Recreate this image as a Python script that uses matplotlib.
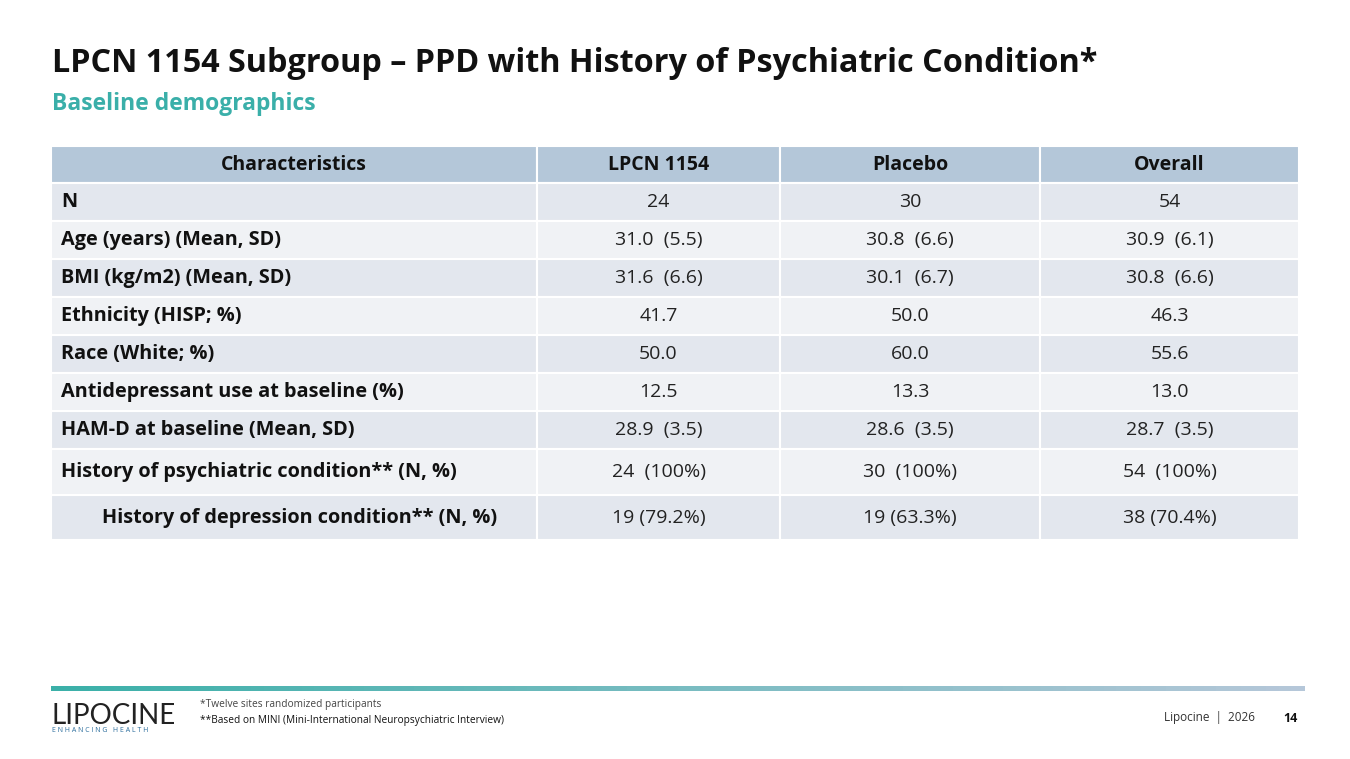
import matplotlib.pyplot as plt
from matplotlib.patches import Rectangle

columns = ['Characteristics', 'LPCN 1154', 'Placebo', 'Overall']
characteristics = ['N', 'Age (years) (Mean, SD)', 'BMI (kg/m2) (Mean, SD)', 'Ethnicity (HISP; %)',
                   'Race (White; %)', 'Antidepressant use at baseline (%)', 'HAM-D at baseline (Mean, SD)',
                   'History of psychiatric condition** (N, %)', 'History of depression condition** (N, %)']
lpcn = ['24', '31.0  (5.5)', '31.6  (6.6)', '41.7', '50.0', '12.5', '28.9  (3.5)', '24  (100%)', '19 (79.2%)']
placebo = ['30', '30.8  (6.6)', '30.1  (6.7)', '50.0', '60.0', '13.3', '28.6  (3.5)', '30  (100%)', '19 (63.3%)']
overall = ['54', '30.9  (6.1)', '30.8  (6.6)', '46.3', '55.6', '13.0', '28.7  (3.5)', '54  (100%)', '38 (70.4%)']

plt.rcParams['font.family'] = ['Open Sans', 'DejaVu Sans']
fig = plt.figure(figsize=(13.5, 7.59), dpi=100)
ax = fig.add_axes([0, 0, 1, 1])
ax.set_xlim(0, 1350)
ax.set_ylim(759, 0)
ax.axis('off')

ax.text(52, 63, 'LPCN 1154 Subgroup – PPD with History of Psychiatric Condition*', fontsize=23.3,
        fontweight='bold', va='center', color='#111111')
ax.text(52, 104, 'Baseline demographics', fontsize=16.5, fontweight='bold', va='center', color='#3AAFA9')

col_x = [51, 537, 780, 1040, 1299]
row_y = [146, 183, 221, 259, 297, 335, 373, 411, 449, 495, 540]

# header
for c in range(4):
    ax.add_patch(Rectangle((col_x[c], row_y[0]), col_x[c + 1] - col_x[c], row_y[1] - row_y[0],
                           facecolor='#B4C7D9', edgecolor='white', lw=1.5))
    ax.text((col_x[c] + col_x[c + 1]) / 2, (row_y[0] + row_y[1]) / 2, columns[c], fontsize=14,
            fontweight='bold', ha='center', va='center', color='#111111')

for r, name in enumerate(characteristics):
    y0, y1 = row_y[r + 1], row_y[r + 2]
    fc = '#E3E7EE' if r % 2 == 0 else '#F0F2F5'
    for c in range(4):
        ax.add_patch(Rectangle((col_x[c], y0), col_x[c + 1] - col_x[c], y1 - y0,
                               facecolor=fc, edgecolor='white', lw=1.5))
    ym = (y0 + y1) / 2
    indent = 102 if r == len(characteristics) - 1 else 61
    ax.text(indent, ym, name, fontsize=14.3, fontweight='bold', va='center', color='#111111')
    for c, vals in zip(range(1, 4), [lpcn, placebo, overall]):
        ax.text((col_x[c] + col_x[c + 1]) / 2, ym, vals[r], fontsize=14, ha='center', va='center',
                color='#222222')

# footer band
for i in range(100):
    x0 = 51 + i * (1304 - 51) / 100
    t = i / 99
    col = (0.23 + t * (0.71 - 0.23), 0.69 + t * (0.78 - 0.69), 0.66 + t * (0.85 - 0.66))
    ax.add_patch(Rectangle((x0, 686), (1304 - 51) / 100 + 0.5, 5, facecolor=col, edgecolor='none'))

ax.text(51, 716, 'LIPOCINE', fontsize=20, va='center', color='#222222', family='Lato')
ax.text(52, 731, 'E N H A N C I N G   H E A L T H', fontsize=5, va='center', color='#2E6F9E')
ax.text(200, 705, '*Twelve sites randomized participants', fontsize=7.3, va='center', color='#444444')
ax.text(200, 721, '**Based on MINI (Mini-International Neuropsychiatric Interview)', fontsize=7.3,
        va='center', color='#111111')
ax.text(1164, 718, 'Lipocine  |  2026', fontsize=8.5, va='center', color='#333333')
ax.text(1283, 718, '14', fontsize=9, fontweight='bold', va='center', color='#111111')

fig.savefig('out.png', dpi=100, facecolor='white')
